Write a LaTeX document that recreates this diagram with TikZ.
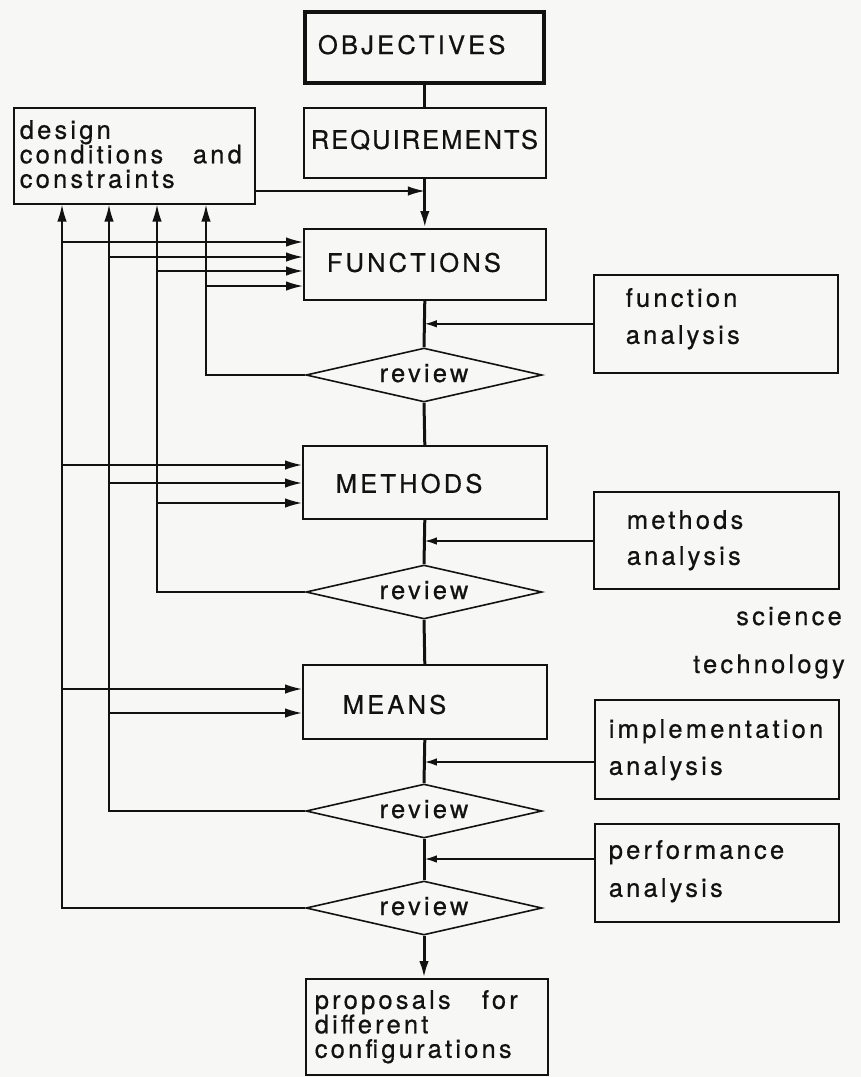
\documentclass[tikz,border=0pt]{standalone}
\usepackage{fontspec}
\usetikzlibrary{arrows.meta,shapes.geometric}
\newfontfamily\hv{TeX Gyre Heros}[LetterSpace=12.5,FakeBold=0.6]
\newfontfamily\hvn{TeX Gyre Heros}[LetterSpace=8,FakeBold=0.6]
\definecolor{ink}{RGB}{18,18,18}
\definecolor{paper}{RGB}{247,247,245}
\tikzset{
  box/.style={draw=ink, line width=1.6pt, rectangle, inner sep=0pt, align=left,
    anchor=north west, text=ink, font=\hv\fontsize{25.5}{24.5}\selectfont},
  dia/.style={draw=ink, line width=1.6pt, diamond, shape aspect=4.4, inner sep=0pt,
    minimum width=236pt, minimum height=54pt, text height=14pt, text depth=0pt,
    text=ink, font=\hv\fontsize{25.5}{25}\selectfont},
  mainln/.style={draw=ink, line width=3pt},
  fb/.style={draw=ink, line width=1.6pt},
  bigtip/.style={-{Latex[length=17pt,width=9.5pt]}},
  smalltip/.style={-{Latex[length=12pt,width=7.5pt]}},
  lbl/.style={text=ink, font=\hv\fontsize{25.5}{25}\selectfont, inner sep=0pt, anchor=base east},
}
\begin{document}
\begin{tikzpicture}[x=1pt,y=-1pt]
\fill[paper] (0,0) rectangle (861,1077);
\useasboundingbox (0,0) rectangle (861,1077);

% central column
\node[box, line width=4pt, text width=239pt, text height=42pt, text depth=29pt] (obj) at (303,10) {\hspace*{13pt}OBJECTIVES};
\node[box, font=\hvn\fontsize{25.5}{24.5}\selectfont, text width=242pt, text height=41pt, text depth=29pt] (req) at (303,107) {\hspace*{7pt}REQUIREMENTS};
\node[box, text width=242pt, text height=43pt, text depth=28pt] (fun) at (303,228) {\hspace*{23pt}FUNCTIONS};
\node[box, text width=244pt, text height=47pt, text depth=26pt] (meth) at (302,445) {\hspace*{33pt}METHODS};
\node[box, text width=244pt, text height=49pt, text depth=25pt] (means) at (302,664) {\hspace*{40pt}MEANS};
\node[box, text width=242pt, text height=30pt, text depth=66pt] (prop) at (305,978) {\hspace*{9pt}\hbox to 203pt{proposals\hfill for}\\\hspace*{9pt}different\\\hspace*{9pt}configurations};

% design box
\node[box, text width=241pt, text height=31pt, text depth=65pt] (design) at (13,107) {\hspace*{6pt}design\\\hspace*{6pt}\hbox to 222pt{conditions\hfill and}\\\hspace*{6pt}constraints};

% analysis boxes
\node[box, font=\hv\fontsize{25.5}{37}\selectfont, text width=244pt, text height=32pt, text depth=66pt] (fa) at (593,274) {\hspace*{32pt}function\\\hspace*{32pt}analysis};
\node[box, font=\hv\fontsize{25.5}{36}\selectfont, text width=245pt, text height=37pt, text depth=60pt] (ma) at (593,491) {\hspace*{33pt}methods\\\hspace*{33pt}analysis};
\node[box, font=\hv\fontsize{25.5}{37}\selectfont, text width=244pt, text height=38pt, text depth=61pt] (ia) at (594,699) {\hspace*{14pt}implementation\\\hspace*{14pt}analysis};
\node[box, font=\hv\fontsize{25.5}{38}\selectfont, text width=244pt, text height=35pt, text depth=63pt] (pa) at (594,823) {\hspace*{14pt}performance\\\hspace*{14pt}analysis};

% reviews
\node[dia] (d1) at (424,375) {review};
\node[dia] (d2) at (424,592) {review};
\node[dia] (d3) at (424,811) {review};
\node[dia] (d4) at (424,908) {review};

% side labels
\node[lbl] (sci) at (842,625) {science};
\node[lbl] (tech) at (845,673) {technology};

% feedback verticals
\coordinate (v1) at (62,0);
\coordinate (v2) at (109,0);
\coordinate (v3) at (157,0);
\coordinate (v4) at (206,0);

% main line
\draw[mainln] (req.north |- obj.south) -- (req.north);
\draw[mainln, bigtip] (req.south) -- (fun.north);
\draw[mainln] (fun.south) -- (d1.north);
\draw[mainln] (d1.south) -- (meth.north);
\draw[mainln] (meth.south) -- (d2.north);
\draw[mainln] (d2.south) -- (means.north);
\draw[mainln] (means.south) -- (d3.north);
\draw[mainln] (d3.south) -- (d4.north);
\draw[mainln, bigtip] (d4.south) -- (d4.south |- prop.north);

% design conditions into main line
\draw[fb, bigtip] (design.east |- 0,191) -- (req.south |- 0,191);

% analysis inputs
\draw[fb, smalltip] (fa.west) -- (fun.south |- fa.west);
\draw[fb, smalltip] (ma.west |- 0,541) -- (meth.south |- 0,541);
\draw[fb, smalltip] (ia.west |- 0,762) -- (means.south |- 0,762);
\draw[fb, smalltip] (pa.west |- 0,859) -- (means.south |- 0,859);

% feedback loops to design conditions
\draw[fb, bigtip] (d4.west) -| (v1 |- design.south);
\draw[fb, bigtip] (d3.west) -| (v2 |- design.south);
\draw[fb, bigtip] (d2.west) -| (v3 |- design.south);
\draw[fb, bigtip] (d1.west) -| (v4 |- design.south);

% branches into boxes
\draw[fb, bigtip] (v1 |- 0,242) -- (fun.west |- 0,242);
\draw[fb, bigtip] (v2 |- 0,257) -- (fun.west |- 0,257);
\draw[fb, bigtip] (v3 |- 0,271) -- (fun.west |- 0,271);
\draw[fb, bigtip] (v4 |- 0,286) -- (fun.west |- 0,286);
\draw[fb, bigtip] (v1 |- 0,465) -- (meth.west |- 0,465);
\draw[fb, bigtip] (v2 |- 0,483) -- (meth.west |- 0,483);
\draw[fb, bigtip] (v3 |- 0,503) -- (meth.west |- 0,503);
\draw[fb, bigtip] (v1 |- 0,689) -- (means.west |- 0,689);
\draw[fb, bigtip] (v2 |- 0,713) -- (means.west |- 0,713);
\end{tikzpicture}
\end{document}
